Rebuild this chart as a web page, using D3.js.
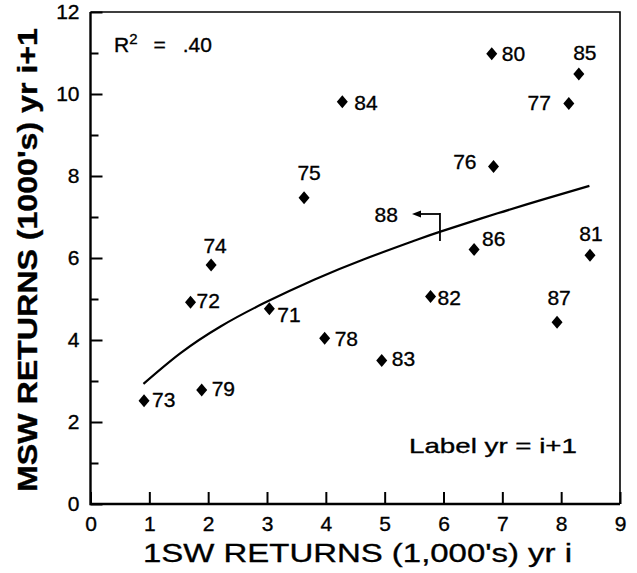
<!DOCTYPE html>
<html>
<head>
<meta charset="utf-8">
<script src="https://cdn.jsdelivr.net/npm/d3@7"></script>
<style>
    body { margin: 0; background: #fff; }
    text { font-family: "Liberation Sans", Arial, sans-serif; fill: #000;
           stroke: #000; stroke-width: 0.35px; }
</style>
</head>
<body>
<script>

// Chart data

// label year (i+1)
var years = ['71', '72', '73', '74', '75', '76', '77', '78', '79',
             '80', '81', '82', '83', '84', '85', '86', '87'];
// 1SW returns in year i (1,000's)
var oneSW = [3.04, 1.70, 0.91, 2.05, 3.63, 6.85, 8.13, 3.98, 1.89,
             6.82, 8.49, 5.78, 4.95, 4.28, 8.30, 6.52, 7.93];
// MSW returns in year i+1 (1000's)
var msw = [4.76, 4.92, 2.52, 5.83, 7.47, 8.23, 9.77, 4.04, 2.78,
           10.98, 6.07, 5.06, 3.50, 9.81, 10.49, 6.21, 4.43];

// fitted curve, points
var fitX = [0.90, 1.53, 2.21, 2.95, 3.80, 4.65, 5.50, 5.96, 6.92, 7.77, 8.48];
var fitY = [2.93, 3.68, 4.33, 4.90, 5.47, 5.97, 6.42, 6.65, 7.09, 7.46, 7.76];

// 1987 1SW returns -> prediction for 88
var label88 = '88';
var x88 = 5.94;

var xTicks = [0, 1, 2, 3, 4, 5, 6, 7, 8, 9];
var yTicks = [0, 2, 4, 6, 8, 10, 12];
var yMinorTicks = [1, 3, 5, 7, 9, 11];

var xTitle = "1SW RETURNS (1,000's) yr i";
var yTitle = "MSW RETURNS (1000's) yr i+1";
var noteText = 'Label yr = i+1';


// Label placement next to each diamond: [dx, dy, anchor]
var labelPos = {
    '71': [8, 13, 'start'],  '72': [6, 6, 'start'],   '73': [8, 6, 'start'],
    '74': [4, -12, 'middle'], '75': [5, -18, 'middle'], '76': [-17, 2, 'end'],
    '77': [-18, 7, 'end'],   '78': [10, 8, 'start'],  '79': [10, 6, 'start'],
    '80': [10, 7, 'start'],  '81': [1, -14, 'middle'], '82': [7, 8, 'start'],
    '83': [10, 5, 'start'],  '84': [12, 8, 'start'],  '85': [6, -14, 'middle'],
    '86': [8, -3, 'start'],  '87': [2, -17, 'middle']
};


// ===========================================================================
// Drawing

var width = 637;
var height = 573;
// plot box edges (window.top is reserved, hence the names)
var boxL = 90.5, boxR = 620, boxT = 12, boxB = 504;

var svg = d3.select('body').append('svg')
    .attr('width', width)
    .attr('height', height);

var x = d3.scaleLinear().domain([0, 9]).range([boxL, boxR]);
var y = d3.scaleLinear().domain([0, 12]).range([boxB, boxT]);

// Axes: ticks point inward
var xAxis = svg.append('g')
    .attr('transform', 'translate(0,' + boxB + ')')
    .call(d3.axisBottom(x).tickValues(xTicks).tickSize(-12).tickPadding(12)
        .tickFormat(d3.format('d')));

var yAxis = svg.append('g')
    .attr('transform', 'translate(' + boxL + ',0)')
    .call(d3.axisLeft(y).tickValues(yTicks).tickSize(-12).tickPadding(11)
        .tickFormat(d3.format('d')));

var yMinor = svg.append('g')
    .attr('transform', 'translate(' + boxL + ',0)')
    .call(d3.axisLeft(y).tickValues(yMinorTicks).tickSize(-8).tickFormat(''));

[xAxis, yAxis, yMinor].forEach(function (g) {
    g.select('.domain').remove();
    g.selectAll('line').attr('stroke', '#000').attr('stroke-width', 2);
    g.selectAll('text')
        .attr('font-family', '"Liberation Sans", Arial, sans-serif')
        .attr('font-size', 21)
        .attr('fill', '#000');
});

// Frame: left and bottom heavier than top and right
svg.append('path')
    .attr('d', 'M' + boxL + ',' + boxT + 'H' + boxR + 'V' + boxB)
    .attr('fill', 'none').attr('stroke', '#000').attr('stroke-width', 1.6);
svg.append('path')
    .attr('d', 'M' + boxL + ',' + boxT + 'V' + boxB + 'H' + boxR)
    .attr('fill', 'none').attr('stroke', '#000').attr('stroke-width', 2.4);

// Fitted curve
var line = d3.line()
    .x(function (d) { return x(d[0]); })
    .y(function (d) { return y(d[1]); })
    .curve(d3.curveNatural);

svg.append('path')
    .datum(d3.zip(fitX, fitY))
    .attr('d', line)
    .attr('fill', 'none')
    .attr('stroke', '#000')
    .attr('stroke-width', 2.2);

// Points as diamonds
var points = years.map(function (yr, i) {
    return { year: yr, x: oneSW[i], y: msw[i] };
});

var pt = svg.append('g').selectAll('g')
    .data(points)
    .enter().append('g')
    .attr('transform', function (d) {
        return 'translate(' + x(d.x) + ',' + y(d.y) + ')';
    });

pt.append('path')
    .attr('d', 'M0,-6.5L5.5,0L0,6.5L-5.5,0Z')
    .attr('fill', '#000');

pt.append('text')
    .attr('x', function (d) { return labelPos[d.year][0]; })
    .attr('y', function (d) { return labelPos[d.year][1]; })
    .attr('text-anchor', function (d) { return labelPos[d.year][2]; })
    .attr('font-size', 21)
    .text(function (d) { return d.year; });

// 88: marker on the curve with arrow pointing to its label
var px88 = x(x88);
var m88 = svg.append('g').attr('stroke', '#000').attr('stroke-width', 1.8);
m88.append('line')
    .attr('x1', px88).attr('x2', px88)
    .attr('y1', 213).attr('y2', 241);
m88.append('line')
    .attr('x1', px88).attr('x2', px88 - 20)
    .attr('y1', 214).attr('y2', 214);
svg.append('path')
    .attr('d', 'M' + (px88 - 28) + ',214l9,-3.5v7z')
    .attr('fill', '#000');
svg.append('text')
    .attr('x', px88 - 42)
    .attr('y', 222)
    .attr('text-anchor', 'end')
    .attr('font-size', 21)
    .text(label88);

// R squared
var r2 = svg.append('text')
    .attr('x', 114)
    .attr('y', 52)
    .attr('font-size', 21);
r2.append('tspan').text('R');
r2.append('tspan').attr('font-size', 15).attr('dy', -8).text('2');
r2.append('tspan').attr('dy', 8).attr('dx', 16).text('=');
r2.append('tspan').attr('dx', 17).text('.40');

// Note
svg.append('text')
    .attr('x', 409)
    .attr('y', 453)
    .attr('font-size', 21)
    .attr('textLength', 168)
    .attr('lengthAdjust', 'spacingAndGlyphs')
    .text(noteText);

// Axis titles
svg.append('text')
    .attr('x', 143)
    .attr('y', 562)
    .attr('font-size', 26)
    .attr('textLength', 429)
    .attr('lengthAdjust', 'spacingAndGlyphs')
    .text(xTitle);

svg.append('text')
    .attr('transform', 'translate(37,492) rotate(-90)')
    .attr('font-size', 27)
    .attr('font-weight', 'bold')
    .attr('textLength', 464)
    .attr('lengthAdjust', 'spacingAndGlyphs')
    .text(yTitle);

</script>
</body>
</html>
